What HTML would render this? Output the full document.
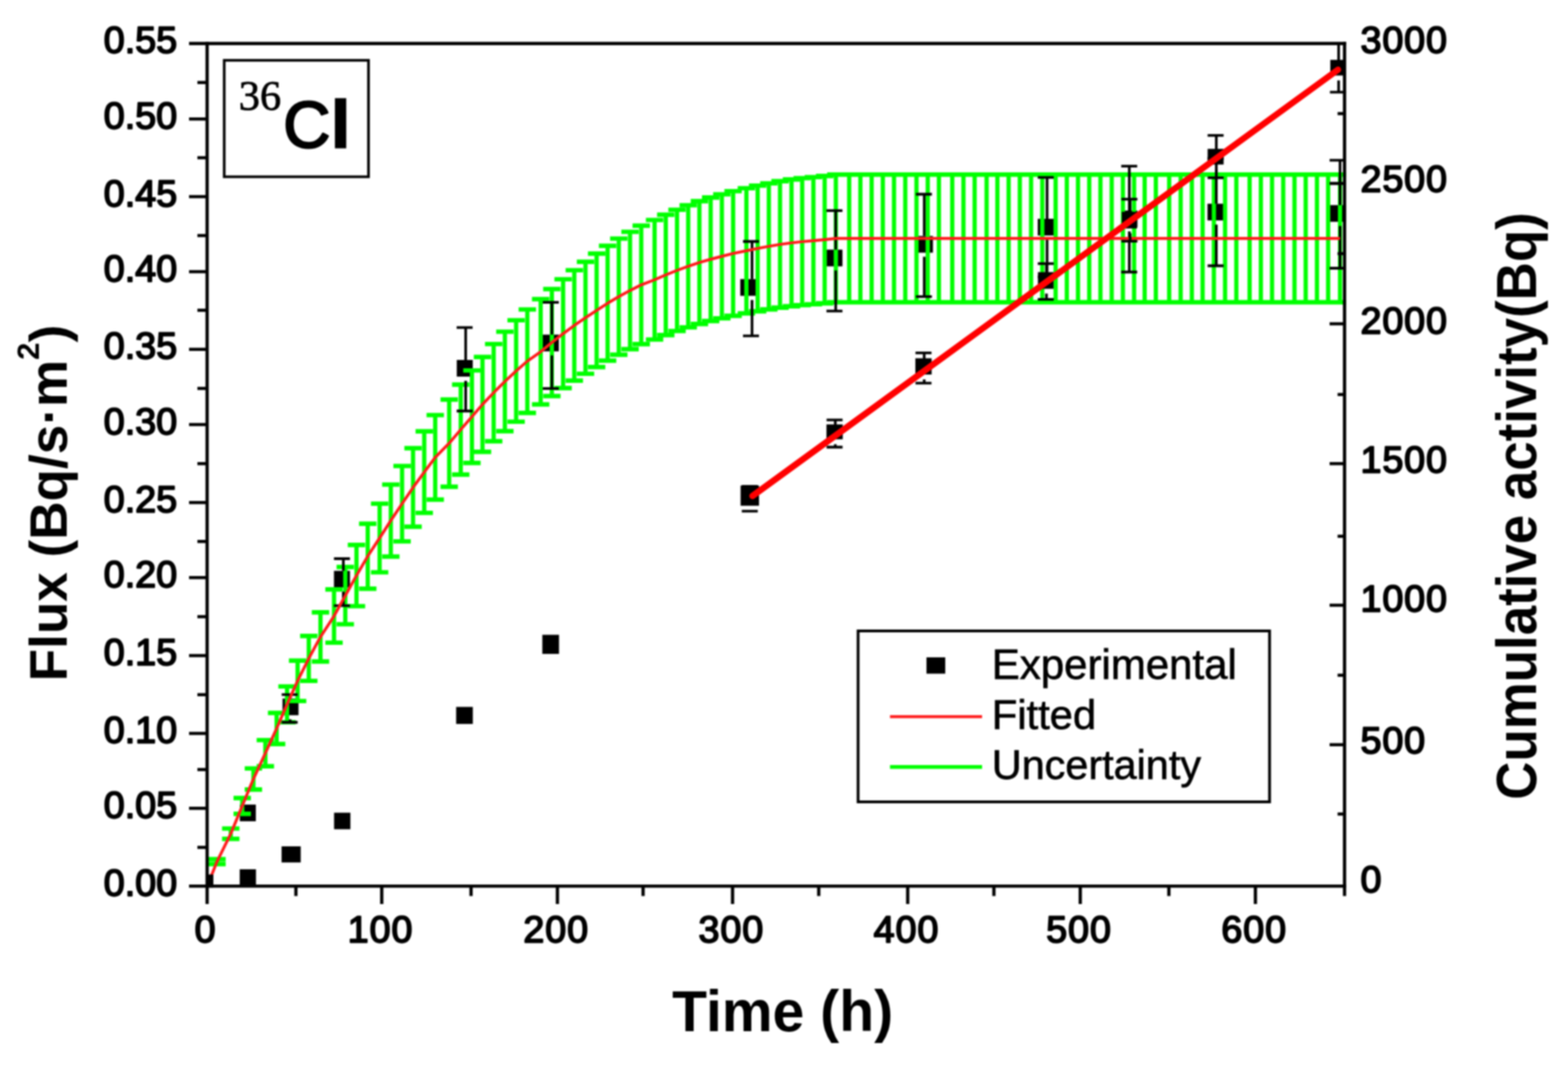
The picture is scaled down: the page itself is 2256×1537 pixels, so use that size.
<!DOCTYPE html>
<html lang="en"><head><meta charset="utf-8"><title>36Cl flux and cumulative activity</title>
<style>
html,body{margin:0;padding:0;background:#fff;}
body{width:2256px;height:1537px;overflow:hidden;}
svg{display:block;}
text{font-family:"Liberation Sans",sans-serif;fill:#000;}
.tk{font-size:54.2px;stroke:#000;stroke-width:2.4px;stroke-linejoin:round;}
.sp{letter-spacing:1.3px;}
.ttl{font-size:78px;font-weight:bold;}
.lg{font-size:59px;stroke:#000;stroke-width:0.9px;}
.ser{font-family:"Liberation Serif",serif;}
</style></head><body>
<svg width="2256" height="1537" viewBox="0 0 2256 1537" role="img" aria-label="36Cl flux and cumulative activity versus time">
<filter id="soft" x="0" y="0" width="100%" height="100%" filterUnits="objectBoundingBox" color-interpolation-filters="sRGB"><feGaussianBlur stdDeviation="1.1"/></filter>
<g filter="url(#soft)">
<defs><clipPath id="pc"><rect x="298" y="60.7" width="1638.5" height="1216.55"/></clipPath></defs>
<rect x="0" y="0" width="2256" height="1537" fill="#fff"/>
<g clip-path="url(#pc)">
<g fill="#000">
<rect x="345.1" y="1157.9" width="23" height="24"/>
<rect x="406.5" y="1005.3" width="23" height="24"/>
<rect x="480.5" y="821.5" width="23" height="24"/>
<rect x="657.2" y="518" width="23" height="24"/>
<rect x="781" y="481.6" width="23" height="24"/>
<rect x="1065.1" y="401.7" width="23" height="24"/>
<rect x="1189.1" y="359.3" width="23" height="24"/>
<rect x="1319.3" y="339.6" width="23" height="24"/>
<rect x="1493.1" y="314.9" width="23" height="24"/>
<rect x="1613.5" y="303" width="23" height="24"/>
<rect x="1737.3" y="293.2" width="23" height="24"/>
<rect x="1913.5" y="295.2" width="23" height="24"/>
</g>
<path d="M312.2 1236.5V1243.45M332 1192.41V1207.27M348.5 1148.56V1171.28M364.6 1105.86V1136.24M381.8 1065.14V1102.82M398 1026.06V1070.75M413 987.83V1039.37M428.2 950.71V1008.92M444.3 915.3V979.85M461.1 881.28V951.94M480.6 848.29V924.86M496.8 816.02V898.37M512.9 784.28V872.33M529.1 753.7V847.23M546.2 724.91V823.61M562.3 697.4V801.02M578.5 670.65V779.08M594.3 645.05V758.07M610.4 620.75V738.12M626.2 597.41V718.97M646.3 574.99V700.57M662.9 553.54V682.97M679 533.11V666.2M694.2 513.72V650.29M710.3 495.15V635.05M726.4 477.42V620.5M742.6 460.88V606.92M758.7 445.35V594.18M777.9 430.44V581.94M794 415.94V570.04M810.2 401.89V558.52M826.3 388.84V547.81M842.4 376.78V537.91M858.4 365.03V528.27M874.2 353.77V519.03M890.3 343.33V510.46M906.5 333.58V502.46M922.6 324.73V495.19M941.8 316.67V488.58M957.9 309V482.28M974.1 301.84V476.41M990.2 295.35V471.08M1006.3 289.44V466.23M1022.5 284.25V461.97M1038.6 279.62V458.17M1054.8 275.13V454.48M1073.9 270.86V450.98M1090.1 267.15V447.94M1106.2 263.85V445.23M1122.3 260.82V442.74M1138.8 258.31V440.68M1154.2 256.4V439.12M1170.3 254.86V437.85M1186.5 253.24V436.52M1202.6 251.32V434.94M1221.8 251.32V434.94M1237.9 251.32V434.94M1254.1 251.32V434.94M1270.2 251.32V434.94M1286.3 251.32V434.94M1302.5 251.32V434.94M1318.6 251.32V434.94M1334.8 251.32V434.94M1350.9 251.32V434.94M1370.1 251.32V434.94M1386.2 251.32V434.94M1402.3 251.32V434.94M1419.5 251.32V434.94M1435 251.32V434.94M1451.2 251.32V434.94M1467.3 251.32V434.94M1483.5 251.32V434.94M1499.6 251.32V434.94M1518.8 251.32V434.94M1534.9 251.32V434.94M1551 251.32V434.94M1567.2 251.32V434.94M1583.3 251.32V434.94M1599.5 251.32V434.94M1615.6 251.32V434.94M1631.7 251.32V434.94M1646.9 251.32V434.94M1663 251.32V434.94M1682.2 251.32V434.94M1698.7 251.32V434.94M1714.8 251.32V434.94M1730.3 251.32V434.94M1746.5 251.32V434.94M1762.6 251.32V434.94M1778.8 251.32V434.94M1797.9 251.32V434.94M1814.1 251.32V434.94M1830.2 251.32V434.94M1846.3 251.32V434.94M1862.5 251.32V434.94M1878.6 251.32V434.94M1894.8 251.32V434.94M1910.9 251.32V434.94M1928 251.32V434.94" fill="none" stroke="#00ff00" stroke-width="6.1"/>
<path d="M299.7 1236.5H324.7M299.7 1243.45H324.7M319.5 1192.41H344.5M319.5 1207.27H344.5M336 1148.56H361M336 1171.28H361M352.1 1105.86H377.1M352.1 1136.24H377.1M369.3 1065.14H394.3M369.3 1102.82H394.3M385.5 1026.06H410.5M385.5 1070.75H410.5M400.5 987.83H425.5M400.5 1039.37H425.5M415.7 950.71H440.7M415.7 1008.92H440.7M431.8 915.3H456.8M431.8 979.85H456.8M448.6 881.28H473.6M448.6 951.94H473.6M468.1 848.29H493.1M468.1 924.86H493.1M484.3 816.02H509.3M484.3 898.37H509.3M500.4 784.28H525.4M500.4 872.33H525.4M516.6 753.7H541.6M516.6 847.23H541.6M533.7 724.91H558.7M533.7 823.61H558.7M549.8 697.4H574.8M549.8 801.02H574.8M566 670.65H591M566 779.08H591M581.8 645.05H606.8M581.8 758.07H606.8M597.9 620.75H622.9M597.9 738.12H622.9M613.7 597.41H638.7M613.7 718.97H638.7M633.8 574.99H658.8M633.8 700.57H658.8M650.4 553.54H675.4M650.4 682.97H675.4M666.5 533.11H691.5M666.5 666.2H691.5M681.7 513.72H706.7M681.7 650.29H706.7M697.8 495.15H722.8M697.8 635.05H722.8M713.9 477.42H738.9M713.9 620.5H738.9M730.1 460.88H755.1M730.1 606.92H755.1M746.2 445.35H771.2M746.2 594.18H771.2M765.4 430.44H790.4M765.4 581.94H790.4M781.5 415.94H806.5M781.5 570.04H806.5M797.7 401.89H822.7M797.7 558.52H822.7M813.8 388.84H838.8M813.8 547.81H838.8M829.9 376.78H854.9M829.9 537.91H854.9M845.9 365.03H870.9M845.9 528.27H870.9M861.7 353.77H886.7M861.7 519.03H886.7M877.8 343.33H902.8M877.8 510.46H902.8M894 333.58H919M894 502.46H919M910.1 324.73H935.1M910.1 495.19H935.1M929.3 316.67H954.3M929.3 488.58H954.3M945.4 309H970.4M945.4 482.28H970.4M961.6 301.84H986.6M961.6 476.41H986.6M977.7 295.35H1002.7M977.7 471.08H1002.7M993.8 289.44H1018.8M993.8 466.23H1018.8M1010 284.25H1035M1010 461.97H1035M1026.1 279.62H1051.1M1026.1 458.17H1051.1M1042.3 275.13H1067.3M1042.3 454.48H1067.3M1061.4 270.86H1086.4M1061.4 450.98H1086.4M1077.6 267.15H1102.6M1077.6 447.94H1102.6M1093.7 263.85H1118.7M1093.7 445.23H1118.7M1109.8 260.82H1134.8M1109.8 442.74H1134.8M1126.3 258.31H1151.3M1126.3 440.68H1151.3M1141.7 256.4H1166.7M1141.7 439.12H1166.7M1157.8 254.86H1182.8M1157.8 437.85H1182.8M1174 253.24H1199M1174 436.52H1199M1190.1 251.32H1215.1M1190.1 434.94H1215.1M1209.3 251.32H1234.3M1209.3 434.94H1234.3M1225.4 251.32H1250.4M1225.4 434.94H1250.4M1241.6 251.32H1266.6M1241.6 434.94H1266.6M1257.7 251.32H1282.7M1257.7 434.94H1282.7M1273.8 251.32H1298.8M1273.8 434.94H1298.8M1290 251.32H1315M1290 434.94H1315M1306.1 251.32H1331.1M1306.1 434.94H1331.1M1322.3 251.32H1347.3M1322.3 434.94H1347.3M1338.4 251.32H1363.4M1338.4 434.94H1363.4M1357.6 251.32H1382.6M1357.6 434.94H1382.6M1373.7 251.32H1398.7M1373.7 434.94H1398.7M1389.8 251.32H1414.8M1389.8 434.94H1414.8M1407 251.32H1432M1407 434.94H1432M1422.5 251.32H1447.5M1422.5 434.94H1447.5M1438.7 251.32H1463.7M1438.7 434.94H1463.7M1454.8 251.32H1479.8M1454.8 434.94H1479.8M1471 251.32H1496M1471 434.94H1496M1487.1 251.32H1512.1M1487.1 434.94H1512.1M1506.3 251.32H1531.3M1506.3 434.94H1531.3M1522.4 251.32H1547.4M1522.4 434.94H1547.4M1538.5 251.32H1563.5M1538.5 434.94H1563.5M1554.7 251.32H1579.7M1554.7 434.94H1579.7M1570.8 251.32H1595.8M1570.8 434.94H1595.8M1587 251.32H1612M1587 434.94H1612M1603.1 251.32H1628.1M1603.1 434.94H1628.1M1619.2 251.32H1644.2M1619.2 434.94H1644.2M1634.4 251.32H1659.4M1634.4 434.94H1659.4M1650.5 251.32H1675.5M1650.5 434.94H1675.5M1669.7 251.32H1694.7M1669.7 434.94H1694.7M1686.2 251.32H1711.2M1686.2 434.94H1711.2M1702.3 251.32H1727.3M1702.3 434.94H1727.3M1717.8 251.32H1742.8M1717.8 434.94H1742.8M1734 251.32H1759M1734 434.94H1759M1750.1 251.32H1775.1M1750.1 434.94H1775.1M1766.3 251.32H1791.3M1766.3 434.94H1791.3M1785.4 251.32H1810.4M1785.4 434.94H1810.4M1801.6 251.32H1826.6M1801.6 434.94H1826.6M1817.7 251.32H1842.7M1817.7 434.94H1842.7M1833.8 251.32H1858.8M1833.8 434.94H1858.8M1850 251.32H1875M1850 434.94H1875M1866.1 251.32H1891.1M1866.1 434.94H1891.1M1882.3 251.32H1907.3M1882.3 434.94H1907.3M1898.4 251.32H1923.4M1898.4 434.94H1923.4M1915.5 251.32H1940.5M1915.5 434.94H1940.5" fill="none" stroke="#00ff00" stroke-width="6.4"/>
<path d="M417.5 999.6V1005.3M417.5 1035.3V1039.5M405.3 999.6H428.3M405.3 1039.5H428.3M494 804V821.5M494 851.5V871.6M480.5 804H503.5M480.5 871.6H503.5M670 471.4V518M670 548V591.5M657 471.4H680M657 591.5H680M794 435.1V481.6M794 511.6V559.2M781 435.1H804M781 559.2H804M1082 347.5V401.7M1082 431.7V483.3M1069 347.5H1092M1069 483.3H1092M1202.4 303.1V359.3M1202.4 389.3V447.6M1189.1 303.1H1212.1M1189.1 447.6H1212.1M1329.8 279.5V339.6M1329.8 369.6V426.8M1317.8 279.5H1340.8M1317.8 426.8H1340.8M1506.5 255.3V314.9M1506.5 344.9V398.5M1493.1 255.3H1516.1M1493.1 398.5H1516.1M1624.8 239.2V303M1624.8 333V391.5M1613.2 239.2H1636.2M1613.2 391.5H1636.2M1750 228V293.2M1750 323.2V382.5M1737.5 228H1760.5M1737.5 382.5H1760.5M1928 230.6V295.2M1928 325.2V386M1913 230.6H1936M1913 386H1936" fill="none" stroke="#000" stroke-width="3.8"/>
<polyline points="299,1273.25 312.2,1239.98 332,1199.84 348.5,1159.92 364.6,1121.05 381.8,1083.98 398,1048.41 413,1013.6 428.2,979.81 444.3,947.57 461.1,916.61 480.6,886.57 496.8,857.2 512.9,828.3 529.1,800.47 546.2,774.26 562.3,749.21 578.5,724.86 594.3,701.56 610.4,679.43 626.2,658.19 646.3,637.78 662.9,618.25 679,599.65 694.2,582 710.3,565.1 726.4,548.96 742.6,533.9 758.7,519.76 777.9,506.19 794,492.99 810.2,480.2 826.3,468.33 842.4,457.34 858.4,446.65 874.2,436.4 890.3,426.89 906.5,418.02 922.6,409.96 941.8,402.63 957.9,395.64 974.1,389.12 990.2,383.21 1006.3,377.84 1022.5,373.11 1038.6,368.9 1054.8,364.8 1073.9,360.92 1090.1,357.54 1106.2,354.54 1122.3,351.78 1138.8,349.5 1154.2,347.76 1170.3,346.35 1186.5,344.88 1202.6,343.13 1221.8,343.13 1237.9,343.13 1254.1,343.13 1270.2,343.13 1286.3,343.13 1302.5,343.13 1318.6,343.13 1334.8,343.13 1350.9,343.13 1370.1,343.13 1386.2,343.13 1402.3,343.13 1419.5,343.13 1435,343.13 1451.2,343.13 1467.3,343.13 1483.5,343.13 1499.6,343.13 1518.8,343.13 1534.9,343.13 1551,343.13 1567.2,343.13 1583.3,343.13 1599.5,343.13 1615.6,343.13 1631.7,343.13 1646.9,343.13 1663,343.13 1682.2,343.13 1698.7,343.13 1714.8,343.13 1730.3,343.13 1746.5,343.13 1762.6,343.13 1778.8,343.13 1797.9,343.13 1814.1,343.13 1830.2,343.13 1846.3,343.13 1862.5,343.13 1878.6,343.13 1894.8,343.13 1910.9,343.13 1928,343.13" fill="none" stroke="#ff1a1a" stroke-width="4.2" stroke-linejoin="round"/>
<rect x="287" y="1258.5" width="20" height="20" fill="#000"/>
<g fill="#000" stroke="#000" stroke-width="3.8">
<rect x="344.9" y="1251" width="23.4" height="24" stroke="none"/>
<rect x="405.15" y="1218" width="27.5" height="23.2" stroke="none"/>
<rect x="480.65" y="1169.6" width="23.5" height="23.8" stroke="none"/>
<rect x="656.3" y="1017.35" width="24" height="24.5" stroke="none"/>
<rect x="780.3" y="913.55" width="24" height="27.5" stroke="none"/>
<path d="M1079.8 700V713.3M1079.8 734.8V735.6M1067.3 700H1090.3M1067.3 735.6H1090.3" fill="none"/>
<rect x="1065.55" y="698.8" width="26.5" height="29" stroke="none"/>
<path d="M1201.8 604.4V621.5M1201.8 639.25V643.5M1189.3 604.4H1212.3M1189.3 643.5H1212.3" fill="none"/>
<rect x="1189.1" y="610.75" width="23.4" height="21.5" stroke="none"/>
<path d="M1329.7 507.8V527.3M1329.7 546V551.4M1317.2 507.8H1340.2M1317.2 551.4H1340.2" fill="none"/>
<rect x="1317" y="515.6" width="23.4" height="23.4" stroke="none"/>
<path d="M1505.6 379.4V403.6M1505.6 422.6V430.8M1493.1 379.4H1516.1M1493.1 430.8H1516.1" fill="none"/>
<rect x="1493.35" y="391.6" width="22.5" height="24" stroke="none"/>
<path d="M1626 286.6V316.8M1626 335.8V347.1M1613.5 286.6H1636.5M1613.5 347.1H1636.5" fill="none"/>
<rect x="1614" y="304.8" width="22" height="24" stroke="none"/>
<path d="M1750 194.8V225.5M1750 243.75V255.8M1737.5 194.8H1760.5M1737.5 255.8H1760.5" fill="none"/>
<rect x="1737.5" y="214.25" width="23" height="22.5" stroke="none"/>
<path d="M1926 62.4V97.4M1926 115.65V132.7M1913.5 62.4H1936.5M1913.5 132.7H1936.5" fill="none"/>
<rect x="1914" y="86.15" width="22" height="22.5" stroke="none"/>
</g>
<line x1="1082.7" y1="713.8" x2="1925" y2="100.4" stroke="#ff0000" stroke-width="9.2" stroke-linecap="round"/>
</g>
<g stroke="#000" stroke-width="4.7" fill="none" stroke-linecap="butt">
<path d="M272 62.7H1936.85"/>
<path d="M272 1275.25H1936.85"/>
<path d="M298 60.35V1301"/>
<path d="M1934.5 60.35V1289.5"/>
<path d="M272 171.25H298M272 283H298M272 391H298M272 502.75H298M272 611H298M272 723.25H298M272 831.25H298M272 943.5H298M272 1055.5H298M272 1163.25H298M284 118.75H298M284 227H298M284 339H298M284 446.5H298M284 559H298M284 667.25H298M284 779.25H298M284 887.5H298M284 999.75H298M284 1107.5H298M284 1219.5H298M549.25 1275.25V1301M802 1275.25V1301M1054 1275.25V1301M1306 1275.25V1301M1554.25 1275.25V1301M1806.25 1275.25V1301M425.75 1275.25V1289.5M677.75 1275.25V1289.5M925.25 1275.25V1289.5M1178 1275.25V1289.5M1430 1275.25V1289.5M1681.75 1275.25V1289.5M1913 264H1934.5M1913 466H1934.5M1913 667.25H1934.5M1913 871H1934.5M1913 1071.75H1934.5M1924.5 163.5H1934.5M1924.5 365H1934.5M1924.5 567.75H1934.5M1924.5 771.75H1934.5M1924.5 971.75H1934.5M1924.5 1171.5H1934.5"/>
</g>
<g class="tk" text-anchor="end">
<text x="254.8" y="76.1">0.55</text>
<text x="254.8" y="184.85">0.50</text>
<text x="254.8" y="296.6">0.45</text>
<text x="254.8" y="404.6">0.40</text>
<text x="254.8" y="516.35">0.35</text>
<text x="254.8" y="624.6">0.30</text>
<text x="254.8" y="736.85">0.25</text>
<text x="254.8" y="844.85">0.20</text>
<text x="254.8" y="957.1">0.15</text>
<text x="254.8" y="1069.1">0.10</text>
<text x="254.8" y="1176.85">0.05</text>
<text x="254.8" y="1288.85">0.00</text>
</g>
<g class="tk sp" text-anchor="middle">
<text x="295.7" y="1355.8">0</text>
<text x="547.45" y="1355.8">100</text>
<text x="800.2" y="1355.8">200</text>
<text x="1052.2" y="1355.8">300</text>
<text x="1304.2" y="1355.8">400</text>
<text x="1552.45" y="1355.8">500</text>
<text x="1804.45" y="1355.8">600</text>
</g>
<g class="tk sp" text-anchor="start">
<text x="1957.5" y="75.8">3000</text>
<text x="1957.5" y="275.8">2500</text>
<text x="1957.5" y="480.3">2000</text>
<text x="1957.5" y="679.8">1500</text>
<text x="1957.5" y="880.3">1000</text>
<text x="1957.5" y="1083.8">500</text>
<text x="1957.5" y="1284.3">0</text>
</g>
<text class="ttl" style="font-size:83.5px" x="967" y="1484.3" textLength="318" lengthAdjust="spacingAndGlyphs">Time (h)</text>
<text class="ttl" style="font-size:76.4px" transform="translate(95.6 980.5) rotate(-90)" x="0" y="0">Flux (Bq/s·m<tspan dy="-40" style="font-size:45px">2</tspan><tspan dy="40">)</tspan></text>
<text class="ttl" style="font-size:81px" transform="translate(2209.8 1151) rotate(-90)" x="0" y="0" textLength="845.5" lengthAdjust="spacingAndGlyphs">Cumulative activity(Bq)</text>
<rect x="322.6" y="86.8" width="207.6" height="167.6" fill="#fff" stroke="#000" stroke-width="3.8"/>
<text style="font-size:94px;stroke:#000;stroke-width:3px;stroke-linejoin:round;letter-spacing:5px"><tspan x="343.5" y="157.5" class="ser" style="font-size:61px;stroke-width:1px;letter-spacing:0">36</tspan><tspan x="407.5" y="212.3">C</tspan><tspan dx="-3.5" style="font-weight:bold;stroke-width:3.4px;stroke-linejoin:miter">l</tspan></text>
<rect x="1234.6" y="908" width="592" height="246" fill="#fff" stroke="#000" stroke-width="4"/>
<rect x="1333" y="946" width="27" height="23.5" fill="#000"/>
<line x1="1280.5" y1="1031.3" x2="1413" y2="1031.3" stroke="#ff1a1a" stroke-width="4.2"/>
<line x1="1280.5" y1="1103.8" x2="1413" y2="1103.8" stroke="#00ff00" stroke-width="5.4"/>
<g class="lg">
<text x="1427" y="977" style="font-size:60.4px">Experimental</text>
<text x="1427" y="1048.7" style="font-size:60px">Fitted</text>
<text x="1427" y="1121" style="font-size:59.5px">Uncertainty</text>
</g>
</g>
</svg>
</body></html>
